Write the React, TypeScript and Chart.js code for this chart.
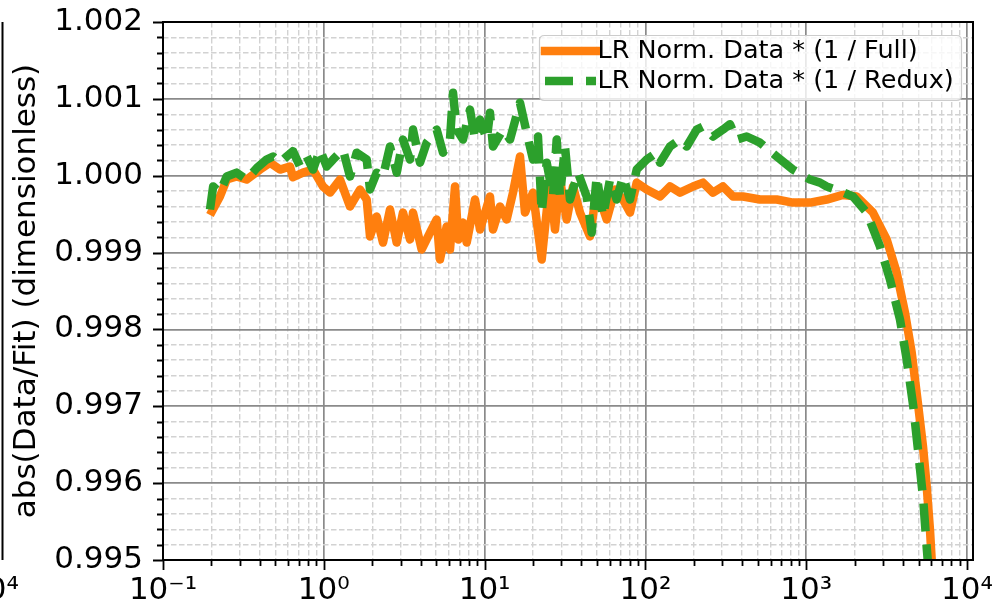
import React, { useEffect, useRef } from 'react';
import { Chart, registerables } from 'chart.js';

Chart.register(...registerables);

// ---- data ----
const fullX = [0.196, 0.226, 0.249, 0.287, 0.331, 0.401, 0.463, 0.534, 0.616, 0.643, 0.742, 0.857, 0.989, 1.093, 1.261, 1.455, 1.68, 1.849, 1.938, 2.133, 2.334, 2.58, 2.841, 3.108, 3.437, 3.587, 4.062, 4.575, 5.036, 5.28, 5.812, 6.093, 6.545, 6.861, 7.339, 7.739, 8.716, 9.363, 10.8, 11.28, 12.47, 13.72, 15.02, 16.6, 17.83, 20.0, 22.65, 25.51, 27.4, 29.43, 32.4, 35.46, 39.2, 45.24, 49.79, 57.45, 64.7, 72.56, 80.21, 88.29, 101.9, 123.3, 142.2, 164.1, 197.7, 228.2, 263.3, 303.8, 350.6, 404.6, 516.1, 655.7, 827.7, 1056, 1341, 1694, 2061, 2602, 3167, 3654, 4115, 4530, 4979, 5325, 5614, 5888, 6034, 6100];
const fullY = [0.99949, 0.99973, 0.99995, 0.99999, 0.99995, 1.00008, 1.00017, 1.00008, 1.00012, 0.99998, 1.00004, 1.00008, 0.99986, 0.99978, 0.99995, 0.9996, 0.99982, 0.99969, 0.99921, 0.99947, 0.99913, 0.99956, 0.99913, 0.99952, 0.99917, 0.99952, 0.99904, 0.99926, 0.99943, 0.99891, 0.99934, 0.99904, 0.99986, 0.99917, 0.99939, 0.99913, 0.99969, 0.9993, 0.99973, 0.9993, 0.9996, 0.99943, 0.99978, 1.00025, 0.99952, 0.99978, 0.99891, 0.99995, 0.9993, 0.99995, 0.99943, 0.99986, 0.99952, 0.99921, 0.99982, 0.99943, 0.99982, 0.99969, 0.99952, 0.99991, 0.99982, 0.99973, 0.99986, 0.99978, 0.99986, 0.99991, 0.99978, 0.99986, 0.99973, 0.99973, 0.99969, 0.99969, 0.99965, 0.99965, 0.99969, 0.99975, 0.99973, 0.99952, 0.99917, 0.99874, 0.99822, 0.9977, 0.997, 0.99648, 0.99596, 0.99539, 0.995, 0.9949];

const reduxX = [0.196, 0.205, 0.226, 0.249, 0.287, 0.331, 0.383, 0.441, 0.483, 0.534, 0.588, 0.643, 0.711, 0.783, 0.857, 0.947, 1.042, 1.141, 1.316, 1.455, 1.602, 1.849, 1.938, 2.133, 2.334, 2.58, 2.841, 3.108, 3.437, 3.587, 3.966, 4.364, 5.036, 5.512, 6.093, 6.361, 6.707, 7.339, 8.114, 8.716, 9.363, 10.31, 10.8, 11.28, 13.02, 14.39, 16.6, 18.27, 20.0, 21.48, 22.65, 24.33, 26.63, 28.07, 29.43, 31.62, 33.97, 38.09, 43.15, 46.35, 49.79, 54.49, 60.23, 66.3, 72.56, 80.21, 88.29, 101.9, 117.6, 123.3, 142.2, 164.1, 180.7, 208.5, 228.2, 263.3, 303.8, 335.8, 369.7, 426.6, 516.1, 655.7, 827.7, 1056, 1218, 1341, 1623, 1955, 2378, 2877, 3320, 3831, 4217, 4634, 4979, 5347, 5614, 5750];
const reduxY = [0.99956, 0.99986, 0.99978, 0.99999, 1.00004, 0.99995, 1.0001, 1.00021, 1.00025, 1.00017, 1.00025, 1.00032, 1.00012, 1.00025, 1.00008, 1.00034, 1.00012, 1.00021, 1.00034, 0.99999, 1.0003, 1.00021, 0.99982, 1.00004, 0.99999, 1.00038, 1.00004, 1.00047, 1.00021, 1.0006, 1.00017, 1.00043, 1.0006, 1.0003, 1.00047, 1.00108, 1.0006, 1.00047, 1.00086, 1.00047, 1.00073, 1.00047, 1.00082, 1.00038, 1.0006, 1.00047, 1.00095, 1.00056, 1.00021, 1.00051, 0.99952, 1.00017, 0.99973, 1.00047, 0.99973, 1.00038, 0.99969, 1.00004, 0.99973, 0.99926, 0.99999, 0.99947, 0.99995, 0.99969, 0.99999, 0.99969, 1.00008, 1.00021, 1.0003, 1.00017, 1.00038, 1.00047, 1.00038, 1.0006, 1.00064, 1.00051, 1.0006, 1.00067, 1.00047, 1.00051, 1.00043, 1.00025, 1.00008, 0.99995, 0.99991, 0.99986, 0.9998, 0.99973, 0.99952, 0.99908, 0.99865, 0.99813, 0.99761, 0.997, 0.9964, 0.99578, 0.99517, 0.9949];

const seriesLabels = ['LR Norm. Data * (1 / Full)', 'LR Norm. Data * (1 / Redux)'];
const yTitle = 'abs(Data/Fit) (dimensionless)';

const xMajorTicks = [0.1, 1, 10, 100, 1000, 10000];
const xTickLabels = ['10\u207B\u00B9', '10\u2070', '10\u00B9', '10\u00B2', '10\u00B3', '10\u2074'];
const yMajorTicks = [0.995, 0.996, 0.997, 0.998, 0.999, 1.0, 1.001, 1.002];
const yTickLabels = ['0.995', '0.996', '0.997', '0.998', '0.999', '1.000', '1.001', '1.002'];
const neighbourLabel = '10\u2074';

const X_MIN = 0.1;
const X_MAX = 10900;
const Y_MIN = 0.995;
const Y_MAX = 1.002;

const FONT = 'DejaVu Sans';
const ORANGE = '#ff7f0e';
const GREEN = '#2ca02c';
const MAJOR_GRID = '#8a8a8a';
const MINOR_GRID = '#d2d2d2';

function buildXTicks() {
  const ticks: any[] = [];
  for (let i = 0; i < xMajorTicks.length; i++) {
    const base = xMajorTicks[i];
    ticks.push({ value: base, major: true, label: xTickLabels[i] });
    if (i < xMajorTicks.length - 1) {
      for (let k = 2; k <= 9; k++) {
        ticks.push({ value: Number((k * base).toPrecision(6)), major: false });
      }
    }
  }
  return ticks;
}

function buildYTicks() {
  const ticks: any[] = [];
  for (let i = 0; i < yMajorTicks.length; i++) {
    ticks.push({ value: yMajorTicks[i], major: true, label: yTickLabels[i] });
    if (i < yMajorTicks.length - 1) {
      const step = (yMajorTicks[i + 1] - yMajorTicks[i]) / 5;
      for (let k = 1; k < 5; k++) {
        ticks.push({ value: Math.round((yMajorTicks[i] + k * step) * 1e6) / 1e6, major: false });
      }
    }
  }
  return ticks;
}

const framePlugin = {
  id: 'mplFrame',
  afterDatasetsDraw(chart: any) {
    const { ctx, chartArea: a, scales } = chart;
    const xs = scales.x;
    const ys = scales.y;
    ctx.save();
    // tick marks
    ctx.strokeStyle = '#000';
    ctx.lineWidth = 1.8;
    ctx.beginPath();
    xs.ticks.forEach((t: any) => {
      const px = Math.round(xs.getPixelForValue(t.value)) + 0.5;
      const len = t.major ? 10 : 6;
      ctx.moveTo(px, a.bottom);
      ctx.lineTo(px, a.bottom + len);
    });
    ys.ticks.forEach((t: any) => {
      const py = Math.round(ys.getPixelForValue(t.value)) + 0.5;
      const len = t.major ? 10 : 6;
      ctx.moveTo(a.left - len, py);
      ctx.lineTo(a.left, py);
    });
    ctx.stroke();
    // spines
    ctx.lineWidth = 2;
    ctx.strokeRect(a.left, a.top, a.right - a.left, a.bottom - a.top);

    // edge of the neighbouring panel (cut off in the picture)
    ctx.beginPath();
    ctx.moveTo(2.5, a.top);
    ctx.lineTo(2.5, a.bottom);
    ctx.stroke();
    ctx.fillStyle = '#000';
    ctx.font = `31px "${FONT}"`;
    ctx.textAlign = 'right';
    ctx.textBaseline = 'middle';
    ctx.fillText(neighbourLabel, 19, a.bottom + 12 + 18.6);

    // legend
    const lx = 539.5, ly = 35.5, lw = 422, lh = 65, r = 5;
    ctx.beginPath();
    ctx.moveTo(lx + r, ly);
    ctx.lineTo(lx + lw - r, ly);
    ctx.quadraticCurveTo(lx + lw, ly, lx + lw, ly + r);
    ctx.lineTo(lx + lw, ly + lh - r);
    ctx.quadraticCurveTo(lx + lw, ly + lh, lx + lw - r, ly + lh);
    ctx.lineTo(lx + r, ly + lh);
    ctx.quadraticCurveTo(lx, ly + lh, lx, ly + lh - r);
    ctx.lineTo(lx, ly + r);
    ctx.quadraticCurveTo(lx, ly, lx + r, ly);
    ctx.closePath();
    ctx.fillStyle = 'rgba(255,255,255,0.8)';
    ctx.fill();
    ctx.strokeStyle = '#cccccc';
    ctx.lineWidth = 1.2;
    ctx.stroke();

    chart.data.datasets.forEach((ds: any, i: number) => {
      const cy = 51 + i * 30;
      ctx.save();
      ctx.strokeStyle = ds.borderColor;
      ctx.lineWidth = ds.borderWidth;
      ctx.setLineDash(ds.borderDash || []);
      ctx.lineCap = ds.borderDash && ds.borderDash.length ? 'butt' : 'square';
      ctx.beginPath();
      ctx.moveTo(545, cy);
      ctx.lineTo(596, cy);
      ctx.stroke();
      ctx.restore();
      ctx.fillStyle = '#000';
      ctx.font = `25.5px "${FONT}"`;
      ctx.textAlign = 'left';
      ctx.textBaseline = 'middle';
      ctx.fillText(ds.label, 597.5, cy + 0.5);
    });
    ctx.restore();
  },
};

export default function App() {
  const canvasRef = useRef<HTMLCanvasElement | null>(null);

  useEffect(() => {
    document.body.style.margin = '0';
    const canvas = canvasRef.current;
    if (!canvas) return;

    const gridColor = (c: any) => (c.tick && c.tick.major ? MAJOR_GRID : MINOR_GRID);
    const gridWidth = (c: any) => (c.tick && c.tick.major ? 1.7 : 1.4);
    const gridDash = (c: any) => (c.tick && !c.tick.major ? [5.5, 2.5] : []);

    const chart = new Chart(canvas, {
      type: 'line',
      data: {
        datasets: [
          {
            label: seriesLabels[0],
            data: fullX.map((x, i) => ({ x, y: fullY[i] })),
            borderColor: ORANGE,
            backgroundColor: ORANGE,
            borderWidth: 8.5,
            pointRadius: 0,
            tension: 0,
            borderJoinStyle: 'round',
            borderCapStyle: 'butt',
            clip: 0,
            order: 2,
          } as any,
          {
            label: seriesLabels[1],
            data: reduxX.map((x, i) => ({ x, y: reduxY[i] })),
            borderColor: GREEN,
            backgroundColor: GREEN,
            borderWidth: 8.5,
            borderDash: [28, 13],
            pointRadius: 0,
            tension: 0,
            borderJoinStyle: 'round',
            borderCapStyle: 'butt',
            clip: 0,
            order: 1,
          } as any,
        ],
      },
      options: {
        animation: false,
        responsive: false,
        devicePixelRatio: 1,
        layout: { padding: { left: 0, right: 25, top: 22, bottom: 0 } },
        plugins: {
          legend: { display: false },
          tooltip: { enabled: false },
        },
        scales: {
          x: {
            type: 'logarithmic',
            min: X_MIN,
            max: X_MAX,
            bounds: 'data',
            afterBuildTicks: (scale: any) => {
              scale.ticks = buildXTicks();
            },
            afterFit: (scale: any) => {
              scale.height = 47;
              scale.paddingLeft = 0;
              scale.paddingRight = 0;
            },
            ticks: {
              autoSkip: false,
              maxRotation: 0,
              minRotation: 0,
              padding: 12,
              color: '#000',
              font: { family: FONT, size: 31, lineHeight: 1.2 },
              callback: (_v: any, i: number, ticks: any[]) => (ticks[i] && ticks[i].major ? ticks[i].label : ''),
            },
            grid: {
              drawTicks: false,
              color: gridColor,
              lineWidth: gridWidth,
            },
            border: { display: false, dash: gridDash },
          } as any,
          y: {
            type: 'linear',
            min: Y_MIN,
            max: Y_MAX,
            bounds: 'data',
            afterBuildTicks: (scale: any) => {
              scale.ticks = buildYTicks();
            },
            afterFit: (scale: any) => {
              scale.width = 163;
              scale.paddingTop = 0;
              scale.paddingBottom = 0;
            },
            ticks: {
              autoSkip: false,
              padding: 20,
              color: '#000',
              font: { family: FONT, size: 31, lineHeight: 1.2 },
              callback: (_v: any, i: number, ticks: any[]) => (ticks[i] && ticks[i].major ? ticks[i].label : ''),
            },
            title: {
              display: true,
              text: yTitle,
              color: '#000',
              font: { family: FONT, size: 31, lineHeight: 1.2 },
              padding: { top: 8, bottom: 0 },
            },
            grid: {
              drawTicks: false,
              color: gridColor,
              lineWidth: gridWidth,
            },
            border: { display: false, dash: gridDash },
          } as any,
        },
      },
      plugins: [framePlugin],
    });

    return () => {
      chart.destroy();
    };
  }, []);

  return (
    <div style={{ width: 998, height: 607, background: '#fff' }}>
      <canvas ref={canvasRef} width={998} height={607} style={{ width: '998px', height: '607px', display: 'block' }} />
    </div>
  );
}
